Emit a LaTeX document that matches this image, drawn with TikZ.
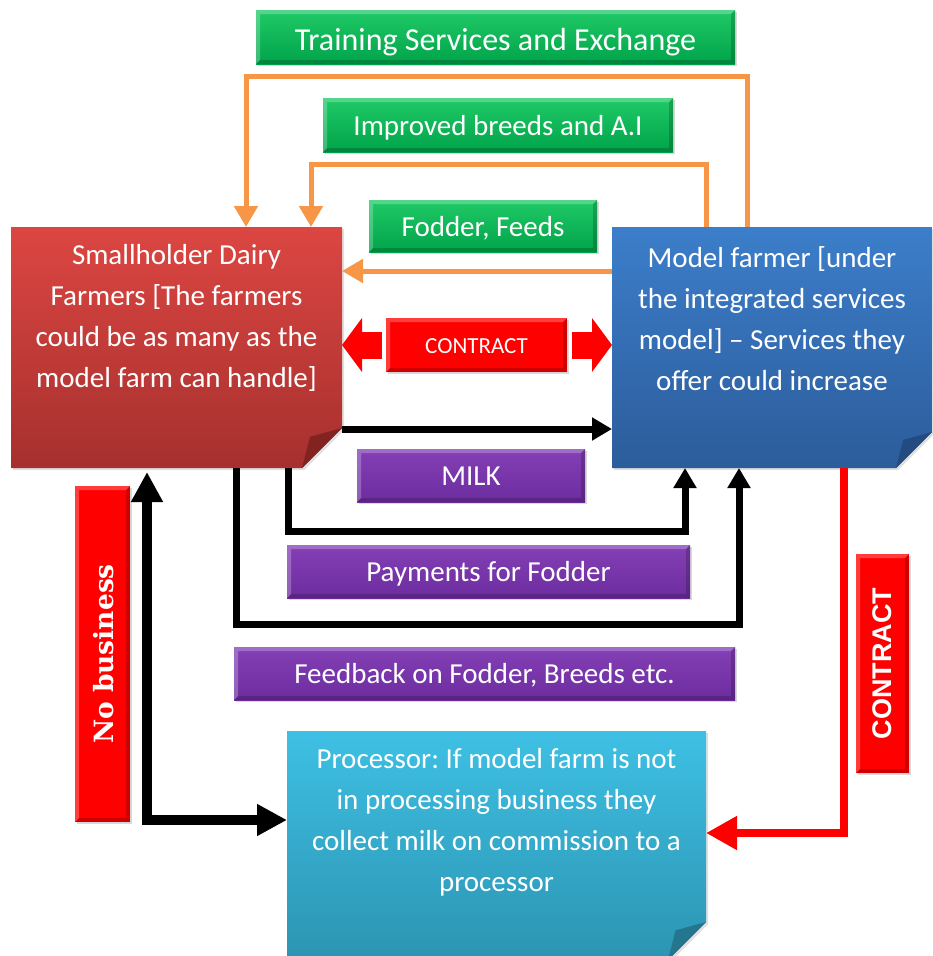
\documentclass[tikz,border=0pt]{standalone}
\usepackage{fontspec}
\setmainfont{Carlito}
\newfontfamily\nbfont{DejaVu Serif}
\newfontfamily\arfont{Liberation Sans}
\usetikzlibrary{shadows,calc,arrows.meta}
\definecolor{shtop}{RGB}{220,70,66}
\definecolor{shbot}{RGB}{166,48,46}
\definecolor{shfold}{RGB}{130,35,33}
\definecolor{mftop}{RGB}{60,126,202}
\definecolor{mfbot}{RGB}{44,92,155}
\definecolor{mffold}{RGB}{35,75,130}
\definecolor{prtop}{RGB}{62,192,228}
\definecolor{prbot}{RGB}{44,148,178}
\definecolor{prfold}{RGB}{36,118,142}
\definecolor{grtop}{RGB}{32,202,102}
\definecolor{grbot}{RGB}{0,163,74}
\definecolor{putop}{RGB}{132,64,182}
\definecolor{pubot}{RGB}{108,44,158}
\definecolor{orng}{RGB}{247,150,70}
\definecolor{rred}{RGB}{255,0,0}
\newcommand\stickynote[5]{%
  \path[drop shadow={opacity=0.25,shadow xshift=2pt,shadow yshift=-2pt},top color=#2,bottom color=#3]
    (#1.north west) -- (#1.north east) -- ([yshift=#5]#1.south east) -- ([xshift=-#5]#1.south east) -- (#1.south west) -- cycle;
  \fill[#4] ([yshift=#5]#1.south east) -- ([xshift=-#5]#1.south east) -- ([xshift=-0.8*#5,yshift=0.78*#5]#1.south east) -- cycle;
}
\tikzset{
  boxarea/.style={inner sep=0pt,outer sep=0pt,draw=none},
  bodytext/.style={text=white,align=center,font=\frenchspacing\fontsize{29}{41}\selectfont,inner sep=0pt},
  bevel/.style={inner sep=0pt,outer sep=0pt,text=white,text height=25pt,text depth=4.3pt,
    drop shadow={opacity=0.3,shadow xshift=2pt,shadow yshift=-2pt},
    path picture={
      \fill[white,opacity=0.24] (path picture bounding box.south west) -- (path picture bounding box.north west) -- (path picture bounding box.north east) -- ([xshift=-4pt,yshift=-4pt]path picture bounding box.north east) -- ([xshift=4pt,yshift=-4pt]path picture bounding box.north west) -- ([xshift=4pt,yshift=4pt]path picture bounding box.south west) -- cycle;
      \fill[black,opacity=0.18] (path picture bounding box.south west) -- (path picture bounding box.south east) -- (path picture bounding box.north east) -- ([xshift=-4pt,yshift=-4pt]path picture bounding box.north east) -- ([xshift=-4pt,yshift=4pt]path picture bounding box.south east) -- ([xshift=4pt,yshift=4pt]path picture bounding box.south west) -- cycle;
    }},
  greenlab/.style={bevel,top color=grtop,bottom color=grbot,font=\fontsize{29}{34}\selectfont},
  purplelab/.style={bevel,top color=putop,bottom color=pubot,font=\fontsize{29}{34}\selectfont},
  redlab/.style={bevel,fill=rred},
  orangearrow/.style={draw=orng,line width=5pt,-{Triangle[width=23pt,length=21pt]}},
  blackarrow/.style={draw=black,line width=7pt,-{Triangle[width=22pt,length=20pt]}},
  redblock/.style={draw=rred,line width=27pt,-{Triangle[width=53pt,length=20pt]}},
}
\begin{document}
\begin{tikzpicture}[x=1pt,y=-1pt]
\useasboundingbox (0,0) rectangle (933,956);
% main box areas
\node[boxarea,minimum width=331pt,minimum height=241pt] (sh) at (176.5,347.5) {};
\node[boxarea,minimum width=320pt,minimum height=241pt] (mf) at (772,347.5) {};
\node[boxarea,minimum width=419pt,minimum height=229pt] (pr) at (496.5,845.5) {};
\stickynote{sh}{shtop}{shbot}{shfold}{40pt}
\stickynote{mf}{mftop}{mfbot}{mffold}{36pt}
\stickynote{pr}{prtop}{prbot}{prfold}{38pt}
\node[bodytext] (sht) at ([yshift=29.5pt]sh.center) {Smallholder Dairy\\Farmers [The farmers\\could be as many as the\\model farm can handle]};
\node[bodytext] (mft) at ([yshift=28.5pt]mf.center) {Model farmer [under\\the integrated services\\model] -- Services they\\offer could increase};
\node[bodytext] (prt) at ([yshift=23.5pt]pr.center) {Processor: If model farm is not\\in processing business they\\collect milk on commission to a\\processor};
% labels
\node[greenlab,font=\fontsize{32}{36}\selectfont,text height=32pt,text depth=4.4pt,minimum width=479pt,minimum height=54pt] (tse) at (495.5,37) {Training Services and Exchange};
\node[greenlab,minimum width=350pt,minimum height=54pt] (ibr) at (498,125) {Improved breeds and A.I};
\node[greenlab,minimum width=228pt,minimum height=52pt] (ff) at (483,226) {Fodder, Feeds};
\node[redlab,font=\fontsize{23}{28}\selectfont,text height=21pt,text depth=3.2pt,minimum width=181pt,minimum height=54pt] (ctrh) at (476.5,345) {CONTRACT};
\node[purplelab,minimum width=228pt,minimum height=53pt] (milk) at (471,475.5) {MILK};
\node[purplelab,minimum width=403pt,minimum height=53pt] (pay) at (488.5,571.5) {Payments for Fodder};
\node[purplelab,minimum width=501pt,minimum height=53pt] (fb) at (484.5,673.5) {Feedback on Fodder, Breeds etc.};
\node[redlab,minimum width=55pt,minimum height=336pt] (nb) at (102.5,654) {};
\node[rotate=90,text=white,font=\nbfont\bfseries\fontsize{26.5}{30}\selectfont] (nbt) at ([xshift=1pt]nb.center) {No business};
\node[redlab,minimum width=53pt,minimum height=219pt] (ctrv) at (882.5,663.5) {};
\node[rotate=90,text=white,font=\arfont\bfseries\fontsize{27}{30}\selectfont] (ctrvt) at (ctrv.center) {CONTRACT};
% orange connectors
\draw[orangearrow] ([xshift=135pt]mf.north west) -- ++(0,-151) -| ([xshift=235pt]sh.north west);
\draw[orangearrow] ([xshift=94pt]mf.north west) -- ++(0,-63) -| ([xshift=300pt]sh.north west);
\draw[orangearrow] ([yshift=76.5pt]mf.west) -- ([yshift=76.5pt]sh.east);
% contract block arrows
\draw[redblock] ([xshift=-4pt]ctrh.west) -- (sh.east |- ctrh.west);
\draw[redblock] ([xshift=5pt]ctrh.east) -- (mf.west |- ctrh.east);
% black connectors
\draw[blackarrow] ([yshift=-81.5pt]sh.east) -- ([yshift=-81.5pt]mf.west);
\draw[blackarrow] ([xshift=277pt]sh.south west) -- ++(0,63) -| ([xshift=73pt]mf.south west);
\draw[blackarrow] ([xshift=225pt]sh.south west) -- ++(0,156) -| ([xshift=127pt]mf.south west);
\draw[draw=black,line width=10pt,{Triangle[width=30pt,length=30pt]}-{Triangle[width=30pt,length=30pt]}] ([xshift=136pt,yshift=-4pt]sh.south west) |- ([yshift=25.5pt]pr.west);
% red contract connector
\draw[draw=rred,line width=8pt,-{Triangle[width=32pt,length=31pt]}] ([xshift=232pt]mf.south west) |- ([yshift=12.5pt]pr.east);
\end{tikzpicture}
\end{document}
